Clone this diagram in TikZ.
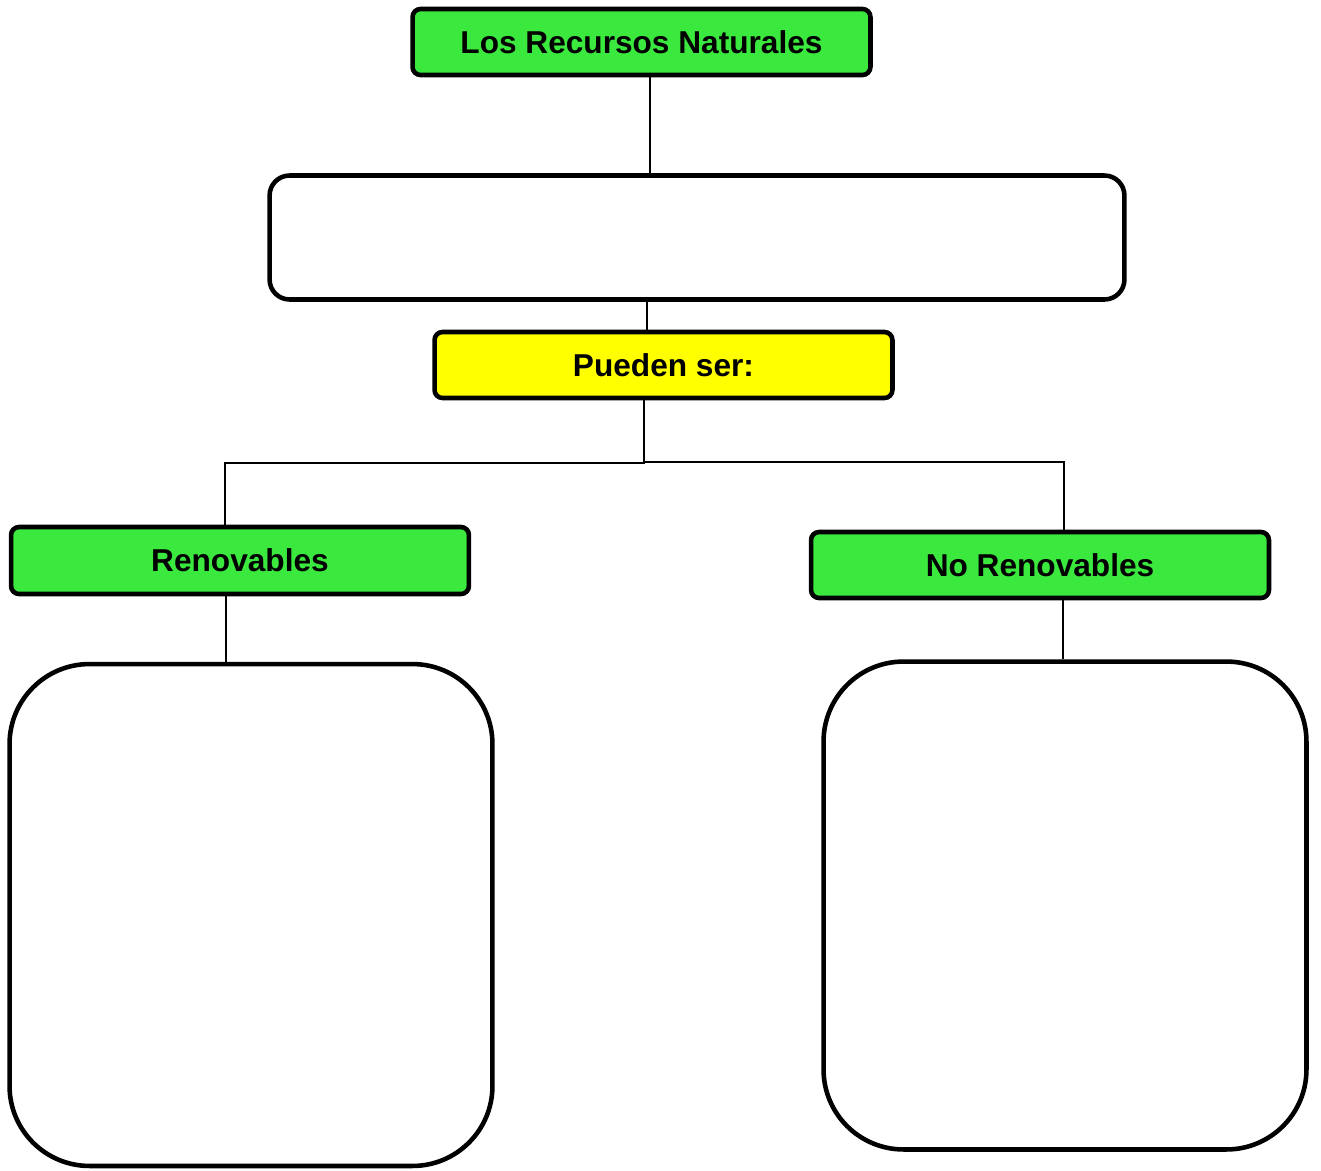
\documentclass[tikz,border=0pt]{standalone}
\usepackage{fontspec}
\setmainfont{Liberation Sans}
\usepackage{tikz}
\usetikzlibrary{positioning}
\definecolor{verde}{RGB}{58,232,62}
\definecolor{amarillo}{RGB}{255,255,0}

\begin{document}
\begin{tikzpicture}[
x=0.02cm, y=-0.02cm,
font=\fontsize{18}{21}\selectfont\bfseries,
etiqueta/.style={draw, line width=2.6pt, rounded corners=0.16cm, minimum width=9.16cm, minimum height=1.32cm, inner sep=0pt},
caja/.style={draw, line width=2.6pt, fill=white, inner sep=0pt},
linea/.style={line width=0.8pt}
]
    % fondo
    \useasboundingbox (0,0) rectangle (1321,1170);

    % recuadros
    \node[etiqueta, fill=verde] (titulo) at (641.5,42) {Los Recursos Naturales};
    \node[caja, rounded corners=0.4cm, minimum width=17.1cm, minimum height=2.48cm] (vacio) at (697,237.5) {};
    \node[etiqueta, fill=amarillo] (pueden) at (663.5,365) {Pueden ser:};
    \node[etiqueta, fill=verde, minimum height=1.34cm] (renov) at (240,560.5) {Renovables};
    \node[etiqueta, fill=verde] (norenov) at (1040,565) {No Renovables};
    \node[caja, rounded corners=1.6cm, minimum width=9.66cm, minimum height=10.04cm] (cajaR) at (251,915) {};
    \node[caja, rounded corners=1.6cm, minimum width=9.66cm, minimum height=9.76cm] (cajaNR) at (1065,905.5) {};

    \coordinate (c1) at (650,0);
    \coordinate (c2) at (647,0);
    \coordinate (c3) at (644,0);
    \coordinate (ramaL) at (225,463);
    \coordinate (ramaR) at (1064,462);
    \coordinate (c4) at (226,0);
    \coordinate (c5) at (1063,0);

    % conectores
    \draw[linea] (titulo.south -| c1) -- (vacio.north -| c1);
    \draw[linea] (vacio.south -| c2) -- (pueden.north -| c2);
    \draw[linea] (pueden.south -| c3) |- (ramaL) -- (renov.north -| ramaL);
    \draw[linea] (c3 |- ramaR) -- (ramaR) -- (norenov.north -| ramaR);
    \draw[linea] (renov.south -| c4) -- (cajaR.north -| c4);
    \draw[linea] (norenov.south -| c5) -- (cajaNR.north -| c5);
\end{tikzpicture}
\end{document}
